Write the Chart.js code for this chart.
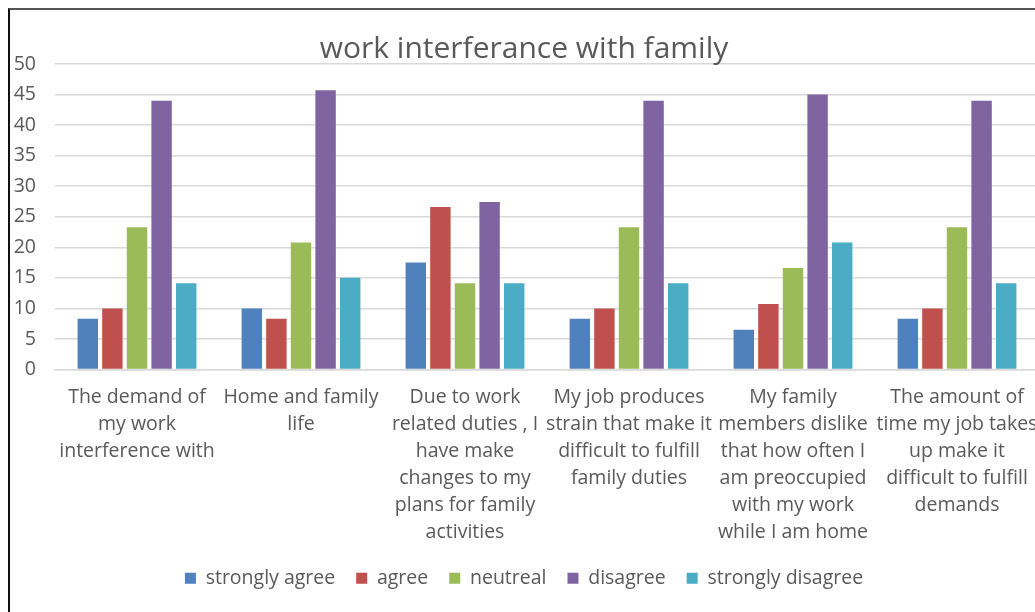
<!DOCTYPE html>
<html>
<head>
<meta charset="utf-8">
<script src="https://cdn.jsdelivr.net/npm/chart.js@4.4.0/dist/chart.umd.min.js"></script>
<style>
  html, body { margin: 0; padding: 0; background: #fff; overflow: hidden; }
  #frame {
    position: absolute; left: 8px; top: 8px; width: 1100px; height: 620px;
    border-left: 2px solid #111; border-top: 2px solid #555;
  }
  #wrap { position: absolute; left: 9px; top: 10px; width: 1037px; height: 602px; }
</style>
</head>
<body>
<div id="frame"></div>
<div id="wrap"><canvas id="chart"></canvas></div>
<script>
// survey answers per statement (percent of respondents)
const categories = [
  ['The demand of', 'my work', 'interference with'],
  ['Home and family', 'life'],
  ['Due to work', 'related duties , I', 'have make', 'changes to my', 'plans for family', 'activities'],
  ['My job produces', 'strain that make it', 'difficult to fulfill', 'family duties'],
  ['My family', 'members dislike', 'that how often I', 'am preoccupied', 'with my work', 'while I am home'],
  ['The amount of', 'time my job takes', 'up make it', 'difficult to fulfill', 'demands'],
];
const stronglyAgree    = [8.3, 10, 17.5, 8.3, 6.5, 8.3];
const agree            = [10, 8.3, 26.6, 10, 10.7, 10];
const neutral          = [23.3, 20.8, 14.1, 23.3, 16.6, 23.3];
const disagree         = [44, 45.7, 27.4, 44, 45, 44];
const stronglyDisagree = [14.1, 15, 14.1, 14.1, 20.8, 14.1];
const yTicks = [0, 5, 10, 15, 20, 25, 30, 35, 40, 45, 50];

const TEXT = '#595959';
const GRID = '#d9d9d9';
const FONT = '"Open Sans", Lato, sans-serif';

const series = [
  { label: 'strongly agree', data: stronglyAgree, color: '#4f81bd' },
  { label: 'agree', data: agree, color: '#c0504d' },
  { label: 'neutreal', data: neutral, color: '#9bbb59' },
  { label: 'disagree', data: disagree, color: '#8064a2' },
  { label: 'strongly disagree', data: stronglyDisagree, color: '#4bacc6' },
];

new Chart(document.getElementById('chart'), {
  type: 'bar',
  data: {
    labels: categories,
    datasets: series.map(s => ({
      label: s.label,
      data: s.data,
      backgroundColor: s.color,
      borderWidth: 0,
      categoryPercentage: 0.75,
      barPercentage: 0.83,
    })),
  },
  options: {
    responsive: true,
    maintainAspectRatio: false,
    animation: false,
    layout: { padding: { top: 0, left: 0, right: 7, bottom: 14 } },
    plugins: {
      title: {
        display: true,
        text: 'work interferance with family',
        color: TEXT,
        font: { family: FONT, size: 30, weight: 'normal', lineHeight: 1 },
        padding: { top: 24, bottom: 0 },
      },
      legend: {
        position: 'bottom',
        labels: {
          color: TEXT,
          font: { family: FONT, size: 19.5 },
          boxWidth: 11,
          boxHeight: 11,
          padding: 21,
        },
      },
      tooltip: { enabled: false },
    },
    scales: {
      x: {
        grid: { display: false, drawTicks: false },
        border: { color: GRID, width: 1.5 },
        ticks: {
          color: TEXT,
          font: { family: FONT, size: 19.5, lineHeight: 1.375 },
          maxRotation: 0,
          autoSkip: false,
          padding: 15,
        },
        // the last label is allowed to run past the right edge
        afterFit: s => { s.height = 178; s.paddingLeft = 0; s.paddingRight = 0; },
      },
      y: {
        min: 0,
        max: 50,
        afterBuildTicks: s => { s.ticks = yTicks.map(v => ({ value: v })); },
        grid: { color: GRID, lineWidth: 1.5, drawTicks: false },
        border: { display: false },
        ticks: {
          color: TEXT,
          font: { family: FONT, size: 19.5 },
          padding: 19,
        },
        afterFit: s => { s.width = 46; },
      },
    },
  },
});
</script>
</body>
</html>
